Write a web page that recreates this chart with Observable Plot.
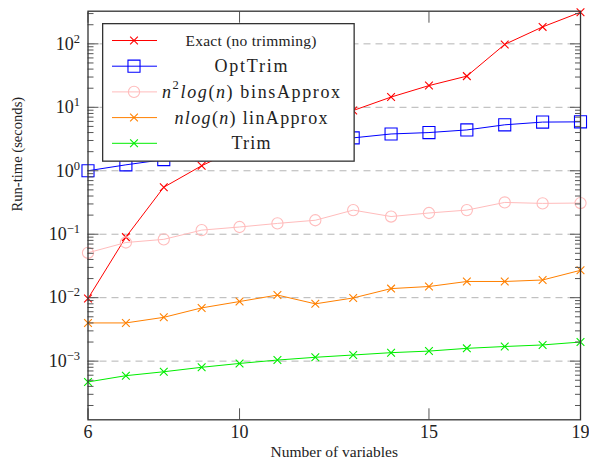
<!DOCTYPE html>
<html><head><meta charset="utf-8">
<script src="https://cdn.jsdelivr.net/npm/d3@7"></script>
<script src="https://cdn.jsdelivr.net/npm/@observablehq/plot@0.6"></script>
<style>
body{margin:0;background:#fff;}
#wrap{position:relative;width:589px;height:464px;}
</style></head><body><div id="wrap"></div>
<script>
const variables = [6,7,8,9,10,11,12,13,14,15,16,17,18,19];
const exactNoTrim = [0.0097,0.09,0.55,1.2,2.3,3.5,5.5,8.9,14.5,22,31,98,185,315];
const optTrim = [1.0,1.24,1.5,1.8,2.1,2.5,2.9,3.3,3.8,4.0,4.4,5.3,5.85,5.9];
const binsApprox = [0.051,0.074,0.083,0.116,0.13,0.148,0.166,0.24,0.19,0.216,0.24,0.317,0.306,0.31];
const linApprox = [0.004,0.004,0.0049,0.0069,0.0087,0.011,0.008,0.0099,0.0139,0.015,0.018,0.018,0.019,0.027];
const trim = [0.00047,0.00059,0.00068,0.0008,0.00092,0.00104,0.00115,0.00125,0.00136,0.00144,0.00159,0.0017,0.0018,0.002];
const seriesNames = ["Exact (no trimming)","OptTrim","n2log(n) binsApprox","nlog(n) linApprox","Trim"];
const seriesValues = [exactNoTrim, optTrim, binsApprox, linApprox, trim];
const seriesColors = ["#ff0000","#0000ff","#ffbcbc","#ff8000","#00ee00"];
const seriesSymbols = ["times","square","circle","times","times"];
const seriesRadius = [3.6,6.8,5.6,3.6,3.6];
const xTicks = [6,10,15,19];
const yMajor = [1e-3,1e-2,1e-1,1,10,100];
const yMinor = [];
for (let e = -4; e <= 2; e++) for (let k = 2; k <= 9; k++) { const v = k*Math.pow(10,e); if (v > 1.19e-4 && v < 327) yMinor.push(v); }

const FONT = '"Liberation Serif", "Times New Roman", serif';

const data = [];
seriesNames.forEach((s,i) => variables.forEach((x,j) => data.push({series:s, x, y:seriesValues[i][j]})));

const seriesMarks = [];
seriesNames.forEach((s,i) => {
  const d = data.filter(r => r.series === s);
  seriesMarks.push(Plot.line(d, {x:"x", y:"y", stroke:seriesColors[i], strokeWidth:1}));
  seriesMarks.push(Plot.dot(d, {x:"x", y:"y", symbol:seriesSymbols[i], r:seriesRadius[i], stroke:seriesColors[i], fill:"none", strokeWidth:1.1}));
});

const tickStroke = "#555";
const chart = Plot.plot({
  width:589, height:464,
  marginLeft:87.5, marginRight:9, marginTop:10.7, marginBottom:44.7,
  style:{fontFamily:FONT, fontSize:"18px", background:"white", color:"#222"},
  x:{domain:[6,19]},
  y:{type:"log", domain:[1.19e-4, 327]},
  marks:[
    Plot.ruleY(yMajor, {stroke:"#b5b5b5", strokeDasharray:"7,5", strokeWidth:1}),
    ...seriesMarks,
    Plot.axisY(yMinor, {anchor:"left", tickSize:-6, tickFormat:()=>"", label:null, stroke:tickStroke}),
    Plot.axisY(yMinor, {anchor:"right", tickSize:-6, tickFormat:()=>"", label:null, stroke:tickStroke}),
    Plot.axisY(yMajor, {anchor:"left", tickSize:-11, tickFormat:()=>"", label:null, stroke:tickStroke}),
    Plot.axisY(yMajor, {anchor:"right", tickSize:-11, tickFormat:()=>"", label:null, stroke:tickStroke}),
    Plot.axisY(yMajor, {anchor:"left", tickSize:0, tickPadding:8, label:null, fontSize:18,
      tickFormat: d => "10^" + Math.round(Math.log10(d))}),
    Plot.axisX(xTicks, {anchor:"bottom", tickSize:-11, tickFormat:()=>"", label:null, stroke:tickStroke}),
    Plot.axisX(xTicks, {anchor:"top", tickSize:-11, tickFormat:()=>"", label:null, stroke:tickStroke}),
    Plot.axisX(xTicks, {anchor:"bottom", tickSize:0, tickPadding:5, label:null, fontSize:18, tickFormat:d=>String(d)}),
    Plot.frame({stroke:"#333", strokeWidth:1.3}),
    Plot.text(["Number of variables"], {frameAnchor:"bottom", dy:37, fontSize:15.5}),
    Plot.text(["Run-time (seconds)"], {frameAnchor:"left", dx:-70.5, dy:-4, rotate:-90, fontSize:14.6})
  ]
});

chart.querySelectorAll('g[aria-label="y-axis tick label"] text').forEach(t => {
  const s = t.textContent;
  if (s.startsWith("10^")) {
    const e = s.slice(3).replace("-", "\u2212");
    t.textContent = "10";
    const ts = document.createElementNS("http://www.w3.org/2000/svg","tspan");
    ts.setAttribute("font-size","12.5");
    ts.setAttribute("dy","-7");
    ts.textContent = e;
    t.appendChild(ts);
  }
});

const wrap = document.getElementById("wrap");
wrap.appendChild(chart);

const legendWidths = [131, 73, 178, 153, 39];
const leg = d3.create("svg").attr("width",253).attr("height",139)
  .style("position","absolute").style("left","102px").style("top","22.5px")
  .style("font-family",FONT);
leg.append("rect").attr("x",0.65).attr("y",0.65).attr("width",251.5).attr("height",137.5)
  .attr("fill","white").attr("stroke","#333").attr("stroke-width",1.3);
seriesNames.forEach((s,i) => {
  const y = 17.5 + i*25.7;
  const g = leg.append("g").attr("transform",`translate(0,${y})`);
  g.append("line").attr("x1",10).attr("x2",55).attr("y1",0).attr("y2",0).attr("stroke",seriesColors[i]).attr("stroke-width",1);
  const r = seriesRadius[i];
  if (seriesSymbols[i] === "circle") {
    g.append("circle").attr("cx",32).attr("cy",0).attr("r",r).attr("fill","none").attr("stroke",seriesColors[i]).attr("stroke-width",1.1);
  } else {
    const sym = seriesSymbols[i] === "square" ? d3.symbolSquare : d3.symbolTimes;
    g.append("path").attr("transform","translate(32,0)").attr("d", d3.symbol(sym, Math.PI*r*r)())
      .attr("fill","none").attr("stroke",seriesColors[i]).attr("stroke-width",1.1);
  }
  const t = g.append("text").attr("x",149 - legendWidths[i]/2).attr("y",0)
    .attr("dominant-baseline","central").attr("fill","#222")
    .attr("textLength", legendWidths[i]).attr("lengthAdjust","spacing");
  if (i === 0) {
    t.attr("font-size",15.5).text(s);
  } else if (i === 2) {
    t.attr("font-size",18);
    t.append("tspan").attr("font-style","italic").text("n");
    t.append("tspan").attr("font-size",12.5).attr("dy",-7).text("2");
    t.append("tspan").attr("font-style","italic").attr("dy",7).text("log");
    t.append("tspan").text("(");
    t.append("tspan").attr("font-style","italic").text("n");
    t.append("tspan").text(") binsApprox");
  } else if (i === 3) {
    t.attr("font-size",18);
    t.append("tspan").attr("font-style","italic").text("nlog");
    t.append("tspan").text("(");
    t.append("tspan").attr("font-style","italic").text("n");
    t.append("tspan").text(") linApprox");
  } else {
    t.attr("font-size",18).text(s);
  }
});
wrap.appendChild(leg.node());
</script>
</body></html>
